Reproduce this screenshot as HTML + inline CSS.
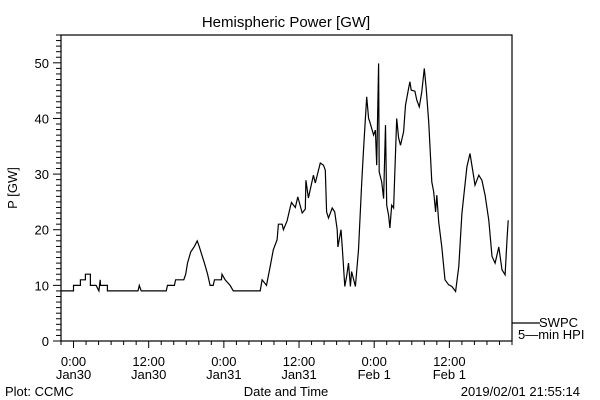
<!DOCTYPE html>
<html><head><meta charset="utf-8"><style>
html,body{margin:0;padding:0;background:#fff;}
svg{display:block;font-family:"Liberation Sans",sans-serif;}
text{fill:#000;font-size:13px;}
</style></head><body>
<svg id="chart" width="600" height="400" viewBox="0 0 600 400" xmlns="http://www.w3.org/2000/svg">
<rect width="600" height="400" fill="#fff"/>
<text x="286" y="27" text-anchor="middle" style="font-size:15px">Hemispheric Power [GW]</text>
<text transform="translate(17,188) rotate(-90)" text-anchor="middle">P [GW]</text>
<text x="286" y="396" text-anchor="middle">Date and Time</text>
<text x="5" y="396">Plot: CCMC</text>
<text x="580" y="396" text-anchor="end">2019/02/01 21:55:14</text>
<g id="axes"></g>
<path id="series" fill="none" stroke="#000" stroke-width="1.2"/>
<rect x="61" y="35" width="451" height="306" fill="none" stroke="#000" stroke-width="1.2"/>
<line x1="512" y1="323" x2="540" y2="323" stroke="#000" stroke-width="1.2"/>
<text x="578" y="327" text-anchor="end">SWPC</text>
<text x="518" y="339">5—min HPI</text>
</svg>
<script>
// hours relative to 2019-01-30 00:00 UT
const hours = [-2,0,0,1.1,1.1,1.9,1.9,2.7,2.7,3.6,4.05,4.26,4.3,5.4,5.4,10.3,10.5,10.8,14.8,15,16.1,16.3,17.6,17.9,18.2,18.7,19.3,19.75,20.07,20.9,21.4,21.8,22.3,22.5,23.6,23.7,24.2,25.0,25.5,29.8,
30.1,30.8,31.4,31.9,32.5,32.7,33.3,33.5,34.1,34.6,34.8,35.4,35.8,36.5,37.0,37.1,37.5,38.3,38.6,39.4,39.9,40.2,40.4,40.7,41.3,41.7,42.1,42.2,42.7,42.9,43.3,43.6,43.9,44.2,44.4,45.0,45.5,46.0,46.3,46.8,47.1,47.3,47.9,48.2,48.4,48.7,48.8,49.2,49.5,49.8,50.0,50.3,50.5,50.8,51.1,51.6,51.9,52.2,52.7,53.0,53.5,53.7,53.9,54.5,54.8,55.2,55.6,56.0,56.3,56.7,57.2,57.5,57.8,58.0,58.3,58.8,59.3,59.9,60.4,61.0,61.5,62.0,62.8,63.3,63.8,64.1,64.7,65.2,65.7,66.3,66.8,67.3,67.9,68.4,68.9,69.2,69.4,70.0];
const power = [9,9,10,10,11,11,12,12,10,10,9,11,10,10,9,9,10,9,9,10,10,11,11,12,14,16,17,18,17,14,12,10,10,11,11,12,11,10,9,9,
11,10,13.4,16.4,18.2,21,21,20,21.6,24.1,24.9,24,25.9,23,23.7,28.9,25.7,29.8,28.4,32,31.6,30.7,23.2,22.1,23.9,23.2,20,16.9,20,17,9.8,11.6,14,9.8,12.5,9.8,16.4,28.4,34.3,43.9,40,39.4,37,37.9,31.6,49.9,30.4,28.6,25.6,38.8,24.4,22.6,20.3,24.4,23.9,40,36.5,35.2,37.6,42.4,45.4,46.6,45.1,44.9,43.3,42.1,44.8,49,45.4,39.4,28.6,26.8,23.2,26.2,21.4,16.9,11,10.1,9.8,8.9,13.4,22.9,31.3,33.7,30.1,28,29.8,28.9,26.2,21.7,15.2,14,16.9,12.8,11.9,18.2,21.7];
const yTickLabels = ["0","10","20","30","40","50"];
const xTickTimes = ["0:00","12:00","0:00","12:00","0:00","12:00"];
const xTickDates = ["Jan30","Jan30","Jan31","Jan31","Feb 1","Feb 1"];

const X0=61,X1=512,Y0=341,Y1=35,HMIN=-2,HMAX=70,VMAX=55;
const xs=h=>X0+(h-HMIN)/(HMAX-HMIN)*(X1-X0);
const ys=v=>Y0-v/VMAX*(Y0-Y1);
const NS="http://www.w3.org/2000/svg";
const axes=document.getElementById('axes');
function mk(tag,attrs){const e=document.createElementNS(NS,tag);for(const k in attrs)e.setAttribute(k,attrs[k]);axes.appendChild(e);return e;}
for(let v=0;v<=VMAX;v++){
  const major=v%10===0;
  const t=mk('line',{x1:X0-(major?8:5),x2:X0,y1:ys(v),y2:ys(v),stroke:'#000','stroke-width':1});
  
  
}
yTickLabels.forEach((s,i)=>{
  const t=mk('text',{x:X0-12,y:ys(i*10)+5,'text-anchor':'end'});t.textContent=s;
  
  
});
for(let h=HMIN;h<=HMAX;h+=2){
  const major=h%12===0;
  const t=mk('line',{x1:xs(h),x2:xs(h),y1:Y0,y2:Y0+(major?7:4),stroke:'#000','stroke-width':1});
  
  
}
xTickTimes.forEach((s,i)=>{
  const t=mk('text',{x:xs(i*12),y:366,'text-anchor':'middle'});t.textContent=s;
  
  
  const d=mk('text',{x:xs(i*12),y:379,'text-anchor':'middle'});d.textContent=xTickDates[i];
  
  
});
document.getElementById('series').setAttribute('d',hours.map((h,i)=>(i?'L':'M')+xs(h).toFixed(1)+' '+ys(power[i]).toFixed(1)).join(' '));
</script>
</body></html>
